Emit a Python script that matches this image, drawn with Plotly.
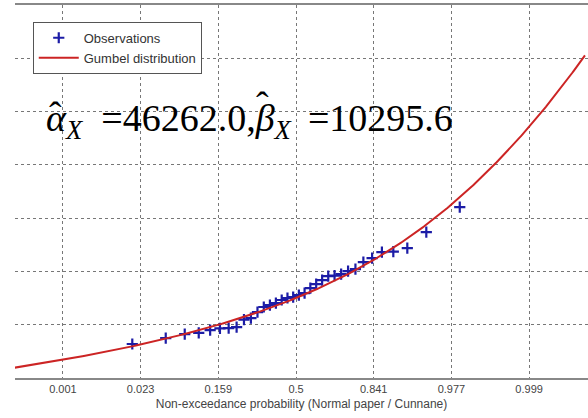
import math
from statistics import NormalDist
import numpy as np
import plotly.graph_objects as go

# ---- data ----
alpha_hat = 46262.0   # Gumbel location
beta_hat = 10295.6    # Gumbel scale

# observations: non-exceedance probability (Cunnane positions) and value
obs_prob = [0.01754, 0.04678, 0.07602, 0.10526, 0.13450, 0.16374, 0.19298,
            0.22222, 0.25146, 0.28070, 0.30994, 0.33918, 0.36842, 0.39766,
            0.42690, 0.45614, 0.48538, 0.51462, 0.54386, 0.57310, 0.60234,
            0.63158, 0.66082, 0.69006, 0.71930, 0.74854, 0.77778, 0.80702,
            0.83626, 0.86550, 0.89474, 0.92398, 0.95322, 0.98246]
obs_value = [32760, 35000, 36500, 36900, 38000, 38600, 38700, 39100, 41900,
             42500, 44760, 46640, 47390, 48140, 49270, 50020, 50390, 51140,
             51890, 53770, 55270, 56770, 58270, 58400, 59020, 60150, 60900,
             63520, 65020, 67270, 67400, 68780, 74780, 84160]

tick_probs = ["0.001", "0.023", "0.159", "0.5", "0.841", "0.977", "0.999"]
tick_z = [-3, -2, -1, 0, 1, 2, 3]
curve_p_min, curve_p_max = 1e-4, 0.9999

nd = NormalDist()
obs_z = [nd.inv_cdf(p) for p in obs_prob]

zc = np.linspace(nd.inv_cdf(curve_p_min), nd.inv_cdf(curve_p_max), 400)
pc = np.array([0.5 * (1 + math.erf(z / math.sqrt(2))) for z in zc])
yc = alpha_hat - beta_hat * np.log(-np.log(pc))

fig = go.Figure()
fig.add_trace(go.Scatter(
    x=obs_z, y=obs_value, mode="markers", name="Observations",
    marker=dict(symbol="cross-thin", size=8, color="#1c1ca6",
                line=dict(color="#1c1ca6", width=2.2))))
fig.add_trace(go.Scatter(
    x=zc, y=yc, mode="lines", name="Gumbel distribution",
    line=dict(color="#cc2424", width=2)))

serif = "Liberation Serif, Times New Roman, serif"
fig.add_annotation(
    xref="paper", yref="paper", x=0.050, y=0.69, xanchor="left", yanchor="middle",
    text=(f"<i>α</i><sub><i>X</i></sub>  ={alpha_hat:.1f},"
          f"<i>β</i><sub><i>X</i></sub> \u2009={beta_hat:.1f}"),
    showarrow=False, font=dict(family=serif, size=38, color="black"))
# hats over alpha and beta
fig.add_annotation(xref="paper", yref="paper", x=0.0715, y=0.705,
                   xanchor="center", yanchor="middle", text="ˆ", showarrow=False,
                   font=dict(family=serif, size=38, color="black"))
fig.add_annotation(xref="paper", yref="paper", x=0.432, y=0.732,
                   xanchor="center", yanchor="middle", text="ˆ", showarrow=False,
                   font=dict(family=serif, size=38, color="black"))

fig.update_layout(
    width=588, height=418,
    margin=dict(l=15, r=0, t=5, b=40),
    plot_bgcolor="white", paper_bgcolor="white",
    showlegend=True,
    legend=dict(x=0.031, y=0.955, xanchor="left", yanchor="top",
                bgcolor="white", bordercolor="#555", borderwidth=1,
                font=dict(family="Liberation Sans, Arial, sans-serif", size=13, color="#333"),
                itemwidth=40, tracegroupgap=0),
    xaxis=dict(range=[-3.617, 3.758], tickmode="array", tickvals=tick_z, ticktext=tick_probs,
               showgrid=True, gridcolor="#777", griddash="dot", gridwidth=1,
               zeroline=False, showline=True, linecolor="#888", linewidth=1.5, mirror=True,
               ticks="", tickfont=dict(family="Liberation Sans, Arial, sans-serif", size=11, color="#444"),
               title=dict(text="Non-exceedance probability (Normal paper / Cunnane)",
                          font=dict(family="Liberation Sans, Arial, sans-serif", size=12, color="#444"),
                          standoff=6)),
    yaxis=dict(range=[20000, 160000], dtick=20000, tick0=0, showticklabels=False,
               showgrid=True, gridcolor="#777", griddash="dot", gridwidth=1,
               zeroline=False, showline=False, ticks=""),
)

fig.write_html("out.html")
